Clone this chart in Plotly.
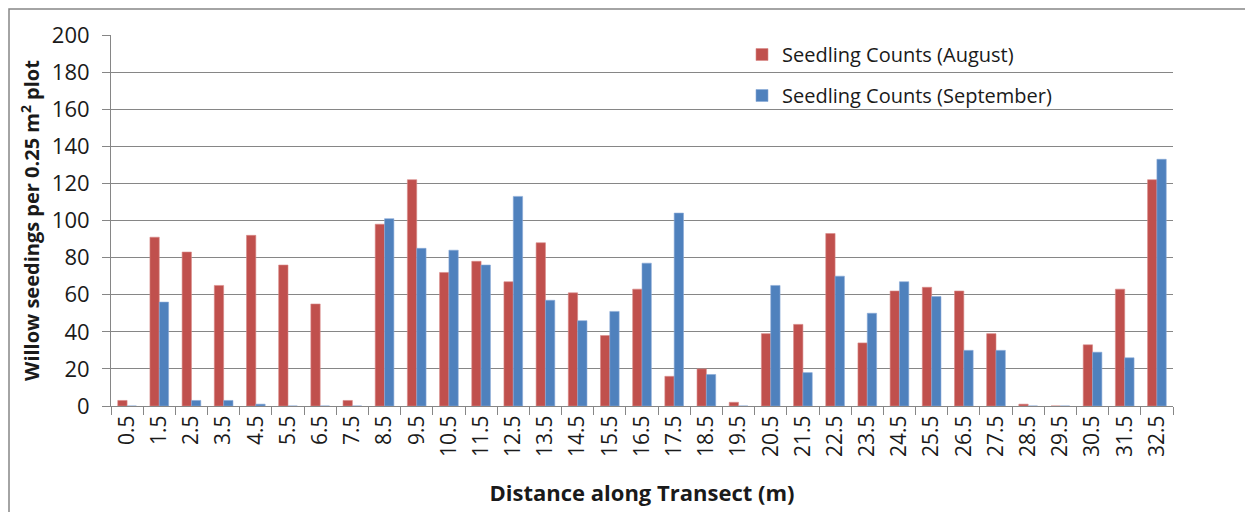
import plotly.graph_objects as go

distances = ["0.5", "1.5", "2.5", "3.5", "4.5", "5.5", "6.5", "7.5", "8.5", "9.5",
             "10.5", "11.5", "12.5", "13.5", "14.5", "15.5", "16.5", "17.5", "18.5", "19.5",
             "20.5", "21.5", "22.5", "23.5", "24.5", "25.5", "26.5", "27.5", "28.5", "29.5",
             "30.5", "31.5", "32.5"]
august = [3, 91, 83, 65, 92, 76, 55, 3, 98, 122,
          72, 78, 67, 88, 61, 38, 63, 16, 20, 2,
          39, 44, 93, 34, 62, 64, 62, 39, 1, 0,
          33, 63, 122]
september = [0, 56, 3, 3, 1, 0, 0, 0, 101, 85,
             84, 76, 113, 57, 46, 51, 77, 104, 17, 0,
             65, 18, 70, 50, 67, 59, 30, 30, 0, 0,
             29, 26, 133]
y_ticks = [0, 20, 40, 60, 80, 100, 120, 140, 160, 180, 200]

RED = "#C0504D"
BLUE = "#4F81BD"
FONT = "Open Sans"

fig = go.Figure()
fig.add_trace(go.Bar(x=distances, y=august, name="Seedling Counts (August)",
                     marker=dict(color=RED, line=dict(color="#D88A88", width=0.6)),
                     legendgroup="a"))
fig.add_trace(go.Bar(x=distances, y=september, name="Seedling Counts (September)",
                     marker=dict(color=BLUE, line=dict(color="#8AAAD6", width=0.6)),
                     legendgroup="b"))

# page has an 8px body margin, so the figure is sized/offset to compensate
W, H = 1245, 504
L, R, T, B = 103, 80, 27, 106
pw, ph = W - L - R, H - T - B

def px_x(p):
    return (p - L) / pw

def px_y(p):
    return (H - B - p) / ph

fig.update_layout(
    width=W, height=H,
    margin=dict(l=L, r=R, t=T, b=B, autoexpand=False),
    paper_bgcolor="white", plot_bgcolor="white",
    barmode="group", bargap=0.42, bargroupgap=0.0,
    font=dict(family=FONT, color="#1a1a1a"),
    legend=dict(x=px_x(734), y=px_y(27), xanchor="left", yanchor="top",
                bgcolor="rgba(0,0,0,0)", font=dict(size=20, family=FONT, color="#1a1a1a"),
                traceorder="grouped", tracegroupgap=12),
    xaxis=dict(type="category", tickangle=-90, tickfont=dict(size=21, family=FONT),
               showline=True, linecolor="#868686", linewidth=1,
               ticks="outside", tickson="boundaries", ticklen=8, tickcolor="#868686",
               showgrid=False, automargin=False,
               title=dict(text="<b>Distance along Transect (m)</b>",
                          font=dict(size=22, family=FONT), standoff=29)),
    yaxis=dict(range=[0, 200], tickvals=y_ticks, tickfont=dict(size=22, family=FONT),
               showline=True, linecolor="#868686", linewidth=1,
               showgrid=True, gridcolor="#868686", gridwidth=1,
               ticks="outside", ticklen=8, tickcolor="#868686",
               ticklabelstandoff=8,
               zeroline=False, automargin=False,
               title=dict(text="<b>Willow seedings per 0.25 m<sup>2</sup> plot</b>",
                          font=dict(size=20, family=FONT), standoff=6)),
    shapes=[dict(type="rect", xref="paper", yref="paper",
                 x0=px_x(1), x1=px_x(1300), y0=px_y(560), y1=px_y(1),
                 line=dict(color="#868686", width=1.5), fillcolor="rgba(0,0,0,0)",
                 layer="below")],
)

fig.write_html("out.html")
